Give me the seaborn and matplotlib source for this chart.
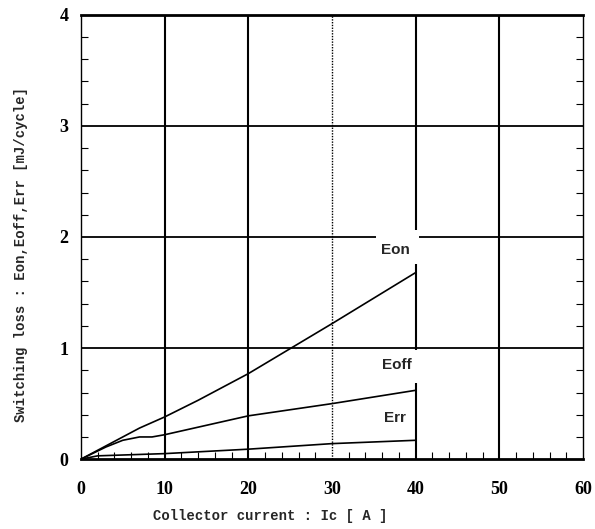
import matplotlib
matplotlib.use("Agg")
import matplotlib.pyplot as plt
import seaborn as sns
import pandas as pd
from matplotlib.ticker import MultipleLocator
from matplotlib.patches import Rectangle

# Data
ic_on = [0, 3, 7, 10, 14, 20, 30, 40]
eon = [0, 0.12, 0.28, 0.38, 0.53, 0.77, 1.22, 1.68]
ic_off = [0, 3, 5, 7, 8.5, 10, 20, 30, 40]
eoff = [0, 0.11, 0.17, 0.20, 0.20, 0.22, 0.39, 0.50, 0.62]
ic_rr = [0, 2, 10, 20, 30, 40]
err = [0, 0.03, 0.05, 0.09, 0.14, 0.17]

xticks = [0, 10, 20, 30, 40, 50, 60]
yticks = [0, 1, 2, 3, 4]
labels = ["Eon", "Eoff", "Err"]

df = pd.concat([
    pd.DataFrame({"Ic": ic_on, "E": eon, "s": "Eon"}),
    pd.DataFrame({"Ic": ic_off, "E": eoff, "s": "Eoff"}),
    pd.DataFrame({"Ic": ic_rr, "E": err, "s": "Err"}),
])

sns.set_style("white")
plt.rcParams["font.family"] = ["Liberation Mono", "DejaVu Sans Mono"]

fig = plt.figure(figsize=(5.95, 5.29), dpi=100)
ax = fig.add_axes([0.136, 0.132, 0.844, 0.84])

sns.lineplot(data=df, x="Ic", y="E", units="s", estimator=None,
             color="black", lw=1.2, ax=ax, legend=False, sort=False, zorder=2)

ax.set_xlim(0, 60)
ax.set_ylim(0, 4)
ax.set_xticks(xticks)
ax.set_yticks(yticks)
ax.xaxis.set_minor_locator(MultipleLocator(2))
ax.yaxis.set_minor_locator(MultipleLocator(0.2))
ax.tick_params(which="both", direction="in", bottom=True, left=True,
               top=False, right=True, colors="black")
ax.tick_params(which="major", length=0)
ax.tick_params(axis="x", which="major", pad=16)
ax.tick_params(axis="y", which="major", pad=9)
ax.tick_params(which="minor", length=5, width=0.8)
for lab in ax.get_xticklabels() + ax.get_yticklabels():
    lab.set_fontfamily(["Liberation Serif", "DejaVu Serif"])
    lab.set_fontweight("bold")
    lab.set_fontsize(13)

# Grid
for x in [10, 20, 40, 50]:
    ax.axvline(x, color="black", lw=1.5, zorder=1)
ax.axvline(30, color="black", lw=1.0, ls=(0, (1, 1)), zorder=1)
for y in [1, 2, 3]:
    ax.axhline(y, color="black", lw=1.3, zorder=1)

for side in ["top", "bottom"]:
    ax.spines[side].set_linewidth(2.0)
for side in ["left", "right"]:
    ax.spines[side].set_linewidth(1.0)
    ax.spines[side].set_linestyle((0, (1, 1)))
for s in ax.spines.values():
    s.set_color("black")

# White gaps in the grid around the curve labels
ax.add_patch(Rectangle((35.2, 1.76), 5.2, 0.30, facecolor="white",
                       edgecolor="none", zorder=1.5))
ax.add_patch(Rectangle((35.8, 0.69), 4.6, 0.29, facecolor="white",
                       edgecolor="none", zorder=1.5))

lab_font = ["Liberation Sans Narrow", "Liberation Sans", "DejaVu Sans"]
for x, y, t in [(37.6, 1.88, labels[0]), (37.8, 0.85, labels[1]), (37.5, 0.37, labels[2])]:
    ax.text(x, y, t, ha="center", va="center", fontsize=11, fontweight="bold",
            family=lab_font, zorder=3)

ax.set_xlabel("Collector current : Ic [ A ]", fontsize=10, fontweight="bold")
ax.set_ylabel("Switching loss : Eon,Eoff,Err [mJ/cycle]", fontsize=10, fontweight="bold")
ax.xaxis.set_label_coords(0.378, -0.113)
ax.yaxis.set_label_coords(-0.105, 0.46)

fig.savefig("out.png", dpi=100, facecolor="white")
